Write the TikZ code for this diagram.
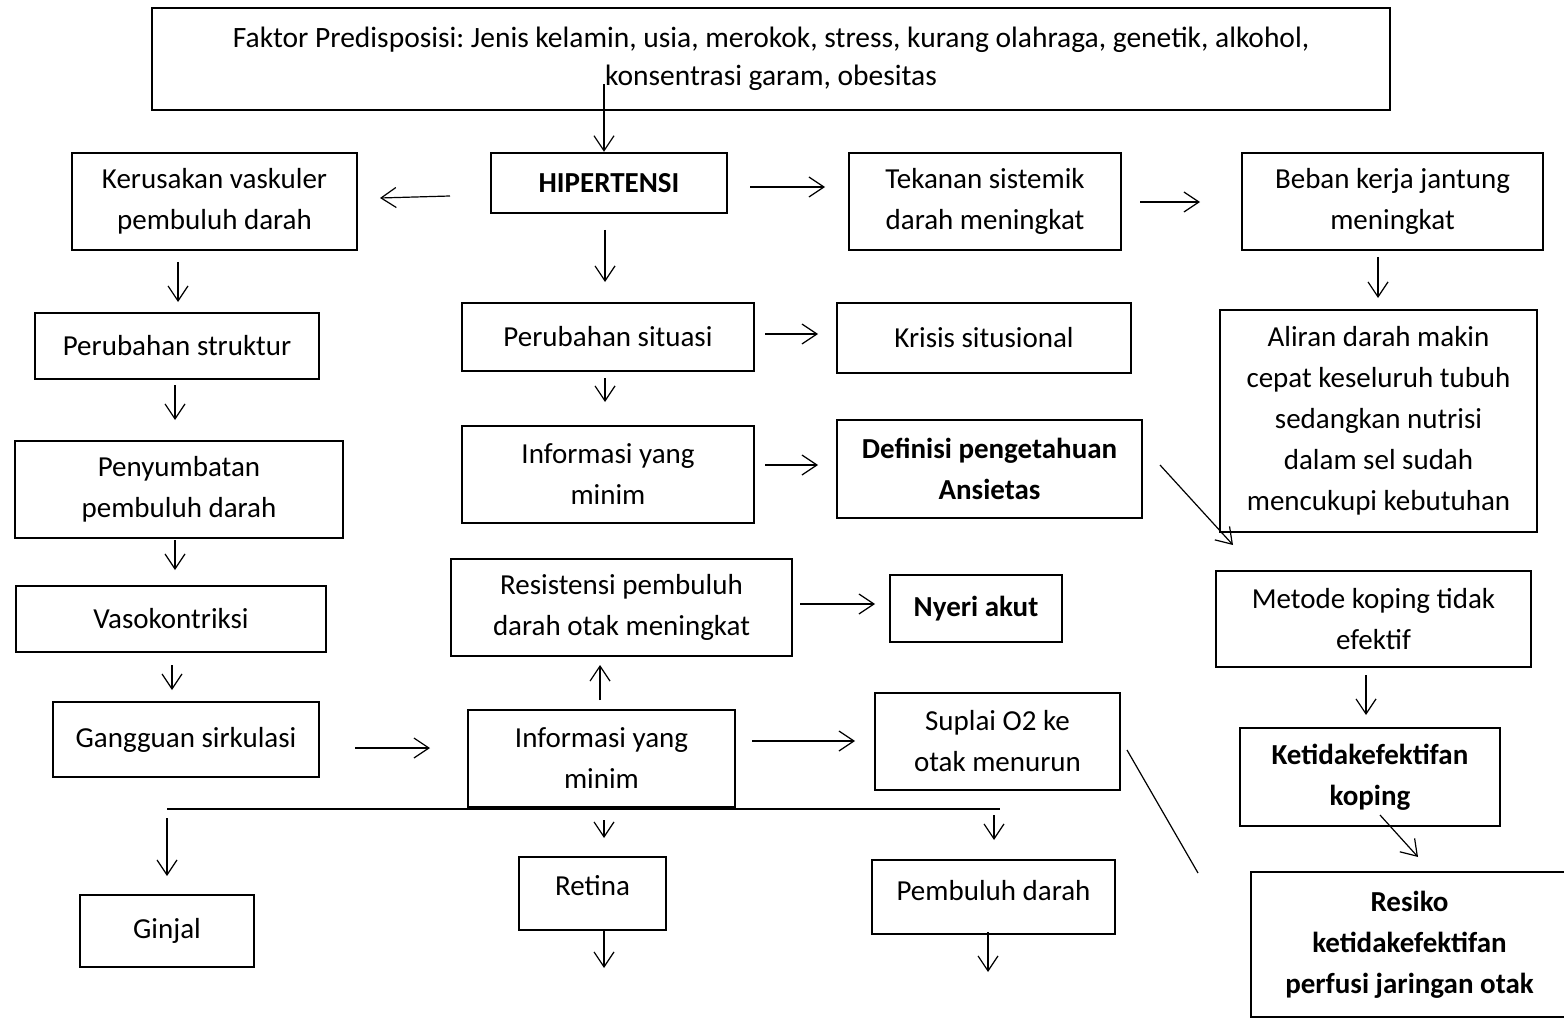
\documentclass[tikz,border=0pt]{standalone}
\usepackage{fontspec}
\setmainfont{Carlito}
\usetikzlibrary{arrows.meta}
\frenchspacing
\begin{document}
\frenchspacing
\begin{tikzpicture}[x=1pt,y=-1pt,
  box/.style={draw, line width=2.4pt, inner sep=0pt, align=center, font=\fontsize{29}{41}\selectfont},
  bbox/.style={box, font=\fontsize{29}{41}\selectfont\bfseries},
  arr/.style={line width=1.2pt, -{Straight Barb[length=15pt,width=20pt,line width=1.2pt]}},
  ln/.style={line width=1.2pt}]
\clip (0,0) rectangle (1564,1019);
\fill[white] (0,0) rectangle (1564,1019);
% nodes
\node[box, minimum width=1238pt, minimum height=102pt, font=\fontsize{29.5}{38}\selectfont] (top) at (771,59) {Faktor Predisposisi: Jenis kelamin, usia, merokok, stress, kurang olahraga, genetik, alkohol,\\konsentrasi garam, obesitas};
\node[bbox, minimum width=236pt, minimum height=60pt] (hip) at (609,183) {HIPERTENSI};
\node[box, minimum width=285pt, minimum height=97pt] (ker) at (214.5,201.5) {Kerusakan vaskuler\\pembuluh darah};
\node[box, minimum width=272pt, minimum height=97pt] (tek) at (985,201.5) {Tekanan sistemik\\darah meningkat};
\node[box, minimum width=301pt, minimum height=97pt] (beb) at (1392.5,201.5) {Beban kerja jantung\\meningkat};
\node[box, minimum width=284pt, minimum height=66pt] (pstr) at (177,346) {Perubahan struktur};
\node[box, minimum width=292pt, minimum height=68pt] (psit) at (608,337) {Perubahan situasi};
\node[box, minimum width=294pt, minimum height=70pt] (kris) at (984,338) {Krisis situsional};
\node[box, minimum width=317pt, minimum height=222pt] (ali) at (1378.5,421) {Aliran darah makin\\cepat keseluruh tubuh\\sedangkan nutrisi\\dalam sel sudah\\mencukupi kebutuhan};
\node[box, minimum width=328pt, minimum height=97pt] (peny) at (179,489.5) {Penyumbatan\\pembuluh darah};
\node[box, minimum width=292pt, minimum height=97pt] (inf1) at (608,474.5) {Informasi yang\\minim};
\node[bbox, minimum width=305pt, minimum height=98pt] (def) at (989.5,469) {Definisi pengetahuan\\Ansietas};
\node[box, minimum width=310pt, minimum height=66pt] (vaso) at (171,619) {Vasokontriksi};
\node[box, minimum width=341pt, minimum height=97pt] (res) at (621.5,607.5) {Resistensi pembuluh\\darah otak meningkat};
\node[bbox, minimum width=172pt, minimum height=67pt] (nyeri) at (976,608.5) {Nyeri akut};
\node[box, minimum width=315pt, minimum height=96pt] (met) at (1373.5,619) {Metode koping tidak\\efektif};
\node[box, minimum width=266pt, minimum height=75pt] (gang) at (186,739.5) {Gangguan sirkulasi};
\node[box, minimum width=267pt, minimum height=97pt] (inf2) at (601.5,758.5) {Informasi yang\\minim};
\node[box, minimum width=245pt, minimum height=97pt] (sup) at (997.5,741.5) {Suplai O2 ke\\otak menurun};
\node[bbox, minimum width=260pt, minimum height=98pt] (ket) at (1370,777) {Ketidakefektifan\\koping};
\node[box, minimum width=174pt, minimum height=72pt] (gin) at (167,931) {Ginjal};
\node[box, minimum width=147pt, minimum height=73pt, text depth=16pt] (ret) at (592.5,893.5) {Retina};
\node[box, minimum width=243pt, minimum height=74pt, text depth=14pt] (pem) at (993.5,897) {Pembuluh darah};
\node[bbox, minimum width=317pt, minimum height=145pt] (resk) at (1409.5,944.5) {Resiko\\ketidakefektifan\\perfusi jaringan otak};
% connectors
\draw[arr] (604,84) -- (hip.north -| 604,0);
\draw[arr] (450,196) -- (380,198);
\draw[arr] (750,187) -- (825,187);
\draw[arr] (1140,202) -- (1200,202);
\draw[arr] (605,230) -- (605,282);
\draw[arr] (178,262) -- (178,302);
\draw[arr] (1378,257) -- (1378,298);
\draw[arr] (765,334) -- (818,334);
\draw[arr] (175,385) -- (175,420);
\draw[arr] (605,378) -- (605,402);
\draw[arr] (765,465) -- (818,465);
\draw[arr] (1160,465) -- (1233,545);
\draw[arr] (175,540) -- (175,570);
\draw[arr] (800,604) -- (875,604);
\draw[arr] (172,665) -- (172,690);
\draw[arr] (1366,675) -- (1366,715);
\draw[arr] (600,700) -- (600,665);
\draw[arr] (355,748) -- (430,748);
\draw[arr] (752,741) -- (855,741);
\draw[ln] (1127,750) -- (1198,873);
\draw[arr] (1380,815) -- (1418,857);
\draw[ln] (167,809) -- (1000,809);
\draw[arr] (167,818) -- (167,876);
\draw[arr] (604,820) -- (604,838);
\draw[arr] (994,815) -- (994,840);
\draw[arr] (ret.south -| 604,0) -- (604,968);
\draw[arr] (988,932) -- (988,972);
\end{tikzpicture}
\end{document}
